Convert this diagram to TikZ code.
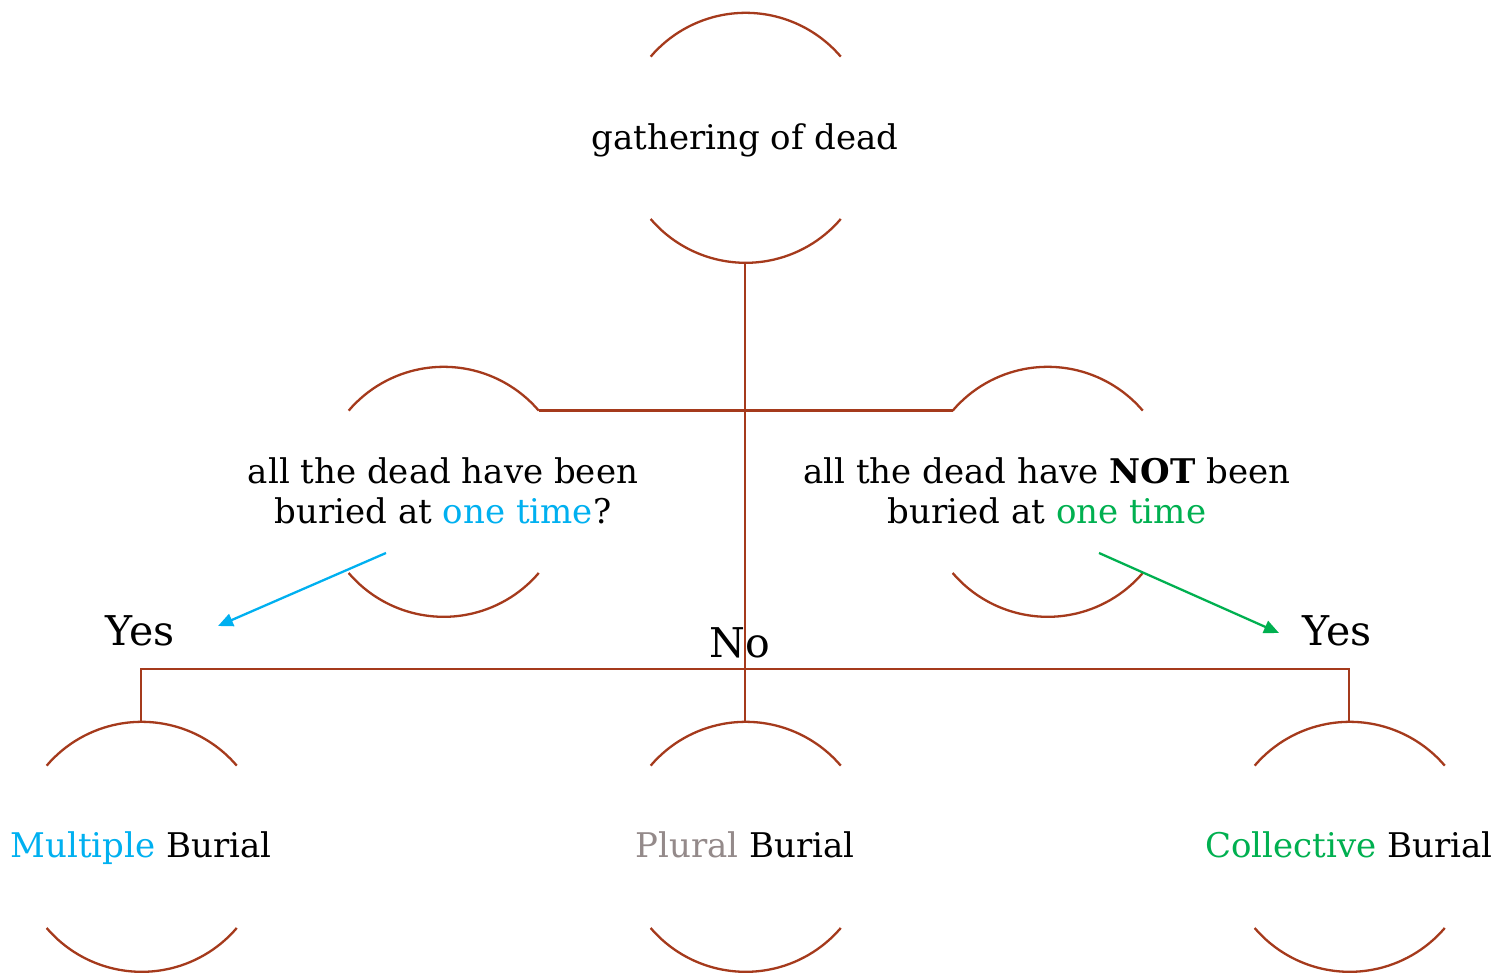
\documentclass[tikz,border=0pt]{standalone}
\usepackage{fontspec}
\setmainfont{DejaVu Serif}
\usetikzlibrary{arrows.meta}
\definecolor{rust}{RGB}{165,58,28}
\definecolor{mblue}{RGB}{0,176,240}
\definecolor{mgreen}{RGB}{0,176,80}
\definecolor{mgray}{RGB}{148,138,138}
\begin{document}
\begin{tikzpicture}[x=1pt,y=1pt,
  circ/.style={circle,minimum size=250pt,inner sep=0pt,outer sep=0pt,draw=none},
  txt/.style={font=\fontsize{34}{40}\selectfont,align=center,text=black,inner sep=0pt},
  arcline/.style={draw=rust,line width=2.3pt},
  conn/.style={draw=rust,line width=2.5pt},
  ans/.style={font=\fontsize{41}{44}\selectfont,text=black,inner sep=0pt},
  arr/.style={line width=2.3pt,-{Triangle[length=15pt,width=13pt]}}]
\useasboundingbox (0,0) rectangle (1498,973);
\fill[white] (0,0) rectangle (1498,973);
\node[circ] (g) at (745,836) {};
\node[circ] (ml) at (443,482) {};
\node[circ] (mr) at (1047,482) {};
\node[circ] (bm) at (141,127) {};
\node[circ] (bp) at (745,127) {};
\node[circ] (bc) at (1349,127) {};
\foreach \n in {g,ml,mr,bm,bp,bc}{
  \draw[arcline] (\n.40.5) arc[start angle=40.5,end angle=139.5,radius=125pt];
  \draw[arcline] (\n.-139.5) arc[start angle=-139.5,end angle=-40.5,radius=125pt];
}
\node[txt,anchor=base] (gt) at ([yshift=-13pt]g.center) {gathering of dead};
\node[txt] (mlt) at (ml.center) {all the dead have been\\buried at \textcolor{mblue}{one time}?};
\node[txt] (mrt) at (mr.center) {all the dead have \textbf{NOT} been\\buried at \textcolor{mgreen}{one time}};
\node[txt,anchor=base] (bmt) at ([yshift=-12pt]bm.center) {\textcolor{mblue}{Multiple} Burial};
\node[txt,anchor=base] (bpt) at ([yshift=-12pt]bp.center) {\textcolor{mgray}{Plural} Burial};
\node[txt,anchor=base] (bct) at ([yshift=-12pt]bc.center) {\textcolor{mgreen}{Collective} Burial};
\coordinate (hl) at (141,304);
\draw[conn] (g.south) -- (bp.north);
\draw[conn] (ml.40.5) -- (ml.40.5 -| mr.139.5);
\draw[conn] (bm.north) -- (bm.north |- hl) -- (bc.north |- hl) -- (bc.north);
\node[ans] (y1) at (140,342) {Yes};
\node[ans] (no) at (740,330) {No};
\node[ans] (y2) at (1337,342) {Yes};
\coordinate (a1s) at (386,420);
\coordinate (a1e) at (218,347);
\coordinate (a2s) at (1099,420);
\coordinate (a2e) at (1279,340);
\draw[arr,mblue] (a1s) -- (a1e);
\draw[arr,mgreen] (a2s) -- (a2e);
\end{tikzpicture}
\end{document}
